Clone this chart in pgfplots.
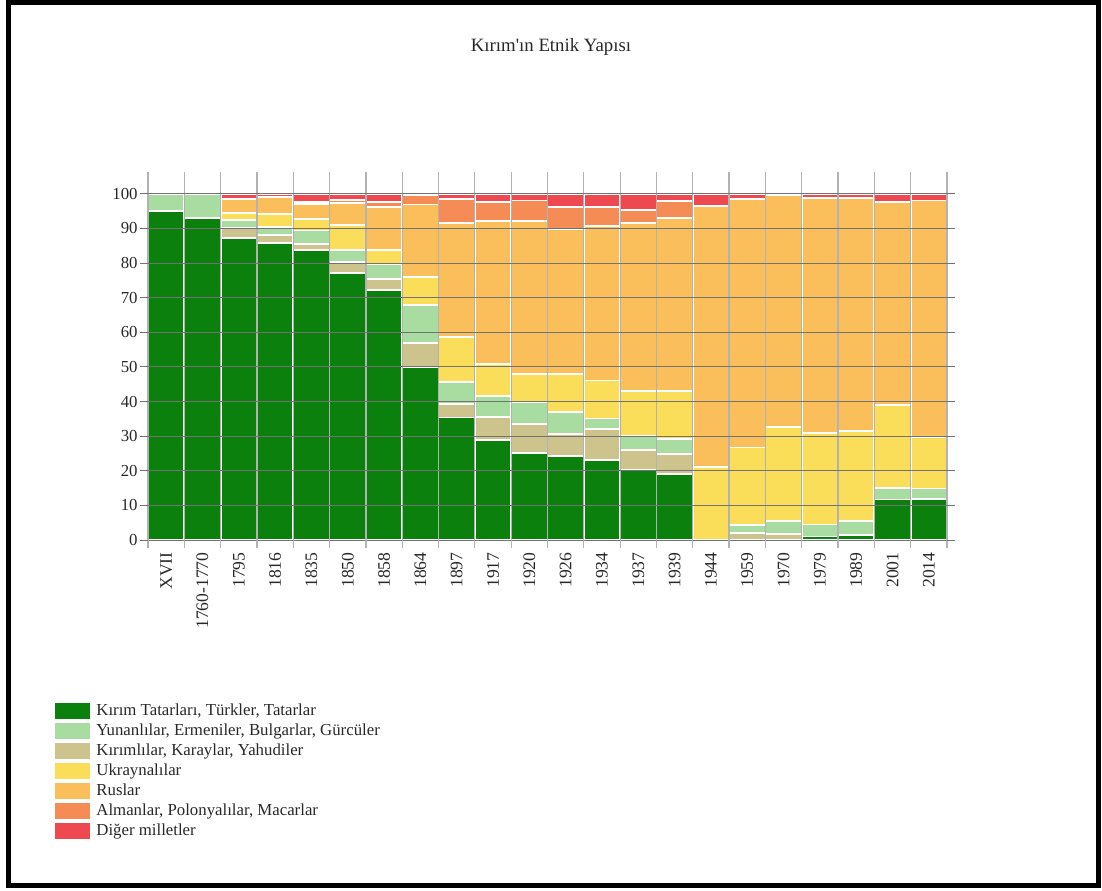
\documentclass[border=0pt]{standalone}
\usepackage{fontspec}
\setmainfont{Liberation Serif}[Ligatures=TeXOff]
\usepackage{pgfplots}
\pgfplotsset{compat=1.18}
\usepackage{pgfplotstable}

\definecolor{cktt}{RGB}{12,128,12}
\definecolor{clg}{RGB}{168,220,160}
\definecolor{ctan}{RGB}{205,195,140}
\definecolor{cyel}{RGB}{250,222,90}
\definecolor{crus}{RGB}{250,190,90}
\definecolor{cger}{RGB}{246,140,85}
\definecolor{cred}{RGB}{238,72,80}
\definecolor{txt}{RGB}{40,40,40}

% columns: g = Kirim Tatarlari..., t = Kirimlilar/Karaylar/Yahudiler, l = Yunanlilar..., y = Ukraynalilar, r = Ruslar, c = Almanlar..., d = Diger
\pgfplotstableread{
x    g     t    l     y     r     c    d
0    95.0  0.0  5.0   0.0   0.0   0.0  0.0
1    93.0  0.0  7.0   0.0   0.0   0.0  0.0
2    87.3  2.8  2.4   2.0   4.0   0.0  1.5
3    85.8  2.2  2.4   3.8   4.8   0.0  1.0
4    83.7  1.9  3.8   3.4   4.3   0.5  2.4
5    77.2  3.1  3.5   7.3   6.2   1.0  1.7
6    72.3  3.2  4.3   4.0   12.5  1.3  2.4
7    50.0  7.0  10.8  8.1   21.0  2.6  0.5
8    35.4  4.0  6.3   12.9  33.0  7.0  1.4
9    29.0  6.6  5.9   9.3   41.3  5.5  2.4
10   25.2  8.3  6.4   8.0   44.2  6.0  1.9
11   24.2  6.4  6.4   10.9  42.0  6.2  3.9
12   23.1  8.9  3.1   11.0  44.6  5.5  3.8
13   20.2  5.8  4.0   13.1  48.4  3.9  4.6
14   19.0  5.8  4.3   14.0  50.0  4.8  2.1
15   0.0   0.0  0.0   21.0  75.5  0.0  3.5
16   0.0   2.0  2.3   22.4  71.9  0.0  1.4
17   0.0   1.7  3.8   27.2  66.8  0.0  0.5
18   1.0   0.0  3.5   26.3  68.0  0.0  1.2
19   1.5   0.0  4.0   25.9  67.4  0.0  1.2
20   11.7  0.0  3.3   24.1  58.6  0.0  2.3
21   11.9  0.0  3.0   14.9  68.3  0.0  1.9
}\data

\begin{document}
\begin{tikzpicture}
\useasboundingbox (0,0) rectangle (551pt,445pt);
\draw[line width=2.5pt] (4pt,2.5pt) rectangle (549pt,443.75pt);
\node[font=\fontsize{9.4pt}{11pt}\selectfont, text=txt, anchor=base] at (275.5pt,419pt) {Kırım'ın Etnik Yapısı};
\begin{axis}[
  at={(74pt,175pt)}, anchor=south west,
  scale only axis, width=399.5pt, height=180pt,
  ybar stacked, bar width=1,
  xmin=-0.5, xmax=21.5, ymin=0, ymax=104,
  axis on top,
  axis line style={draw=none},
  xtick={0,...,21},
  xticklabels={XVII,1760-1770,1795,1816,1835,1850,1858,1864,1897,1917,1920,1926,1934,1937,1939,1944,1959,1970,1979,1989,2001,2014},
  xticklabel style={rotate=90, anchor=east, inner sep=0pt, font=\fontsize{8.8pt}{10pt}\selectfont, text=txt},
  xticklabel shift=2pt,
  minor xtick={-0.5,0.5,...,21.5},
  xminorgrids,
  minor x grid style={black!30, line width=0.6pt},
  every major x tick/.style={draw=none},
  every minor x tick/.style={black!30, line width=0.6pt},
  minor tick length=4pt,
  ytick={0,10,...,100},
  ymajorgrids,
  major y grid style={black!55, line width=0.5pt},
  every major y tick/.style={black!55, line width=0.5pt},
  major tick length=4pt,
  tick align=outside,
  yticklabel style={font=\fontsize{8.4pt}{10pt}\selectfont, text=txt, inner xsep=1pt},
  /pgf/number format/assume math mode=true,
  legend style={draw=none, fill=none, at={(-0.1239,-0.436)}, anchor=north west,
    font=\fontsize{8.4pt}{10pt}\selectfont, text=txt,
    nodes={inner sep=0pt, text height=7pt, text depth=2.2pt}, row sep=0.85pt,
    /tikz/every odd column/.append style={column sep=3pt}},
  legend cell align=left,
  legend image code/.code={\fill[#1, draw=none] (0pt,-4pt) rectangle (17.5pt,4pt);},
]
\addlegendimage{fill=cktt}
\addlegendimage{fill=clg}
\addlegendimage{fill=ctan}
\addlegendimage{fill=cyel}
\addlegendimage{fill=crus}
\addlegendimage{fill=cger}
\addlegendimage{fill=cred}
\addplot[fill=cktt, draw=white, line width=0.9pt] table[x=x,y=g]{\data};
\addplot[fill=ctan, draw=white, line width=0.9pt] table[x=x,y=t]{\data};
\addplot[fill=clg, draw=white, line width=0.9pt] table[x=x,y=l]{\data};
\addplot[fill=cyel, draw=white, line width=0.9pt] table[x=x,y=y]{\data};
\addplot[fill=crus, draw=white, line width=0.9pt] table[x=x,y=r]{\data};
\addplot[fill=cger, draw=white, line width=0.9pt] table[x=x,y=c]{\data};
\addplot[fill=cred, draw=white, line width=0.9pt] table[x=x,y=d]{\data};
\legend{{Kırım Tatarları, Türkler, Tatarlar},
        {Yunanlılar, Ermeniler, Bulgarlar, Gürcüler},
        {Kırımlılar, Karaylar, Yahudiler},
        {Ukraynalılar},
        {Ruslar},
        {Almanlar, Polonyalılar, Macarlar},
        {Diğer milletler}}
\end{axis}
\end{tikzpicture}
\end{document}
